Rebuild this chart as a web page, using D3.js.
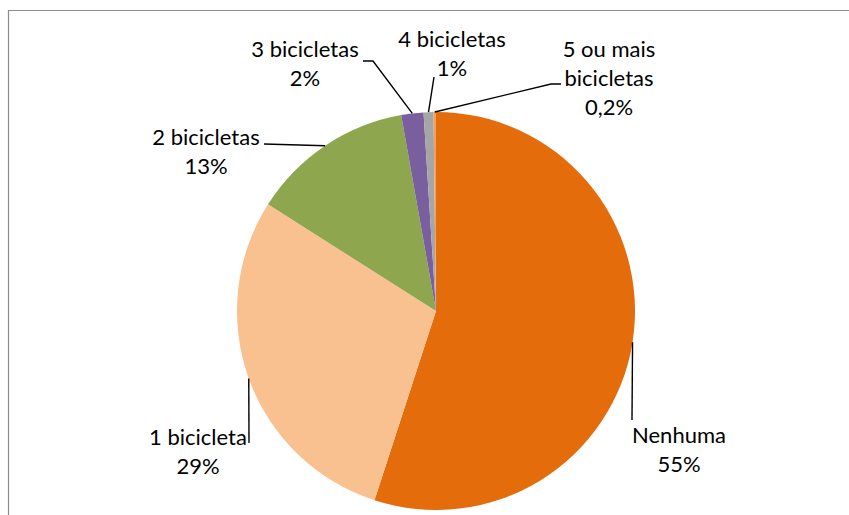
<!DOCTYPE html>
<html>
<head>
<meta charset="utf-8">
<script src="https://cdn.jsdelivr.net/npm/d3@7"></script>
<style>
  body { margin: 0; background: #fff; }
  text { font-family: Lato, "Open Sans", sans-serif; font-size: 22px; fill: #000; }
</style>
</head>
<body>
<script>
// data
var categories = ["Nenhuma", "1 bicicleta", "2 bicicletas", "3 bicicletas", "4 bicicletas", "5 ou mais bicicletas"];
var values = [55.0, 29.0, 13.2, 1.8, 0.8, 0.2];
var pctLabels = ["55%", "29%", "13%", "2%", "1%", "0,2%"];
var labelLines = [["Nenhuma"], ["1 bicicleta"], ["2 bicicletas"], ["3 bicicletas"], ["4 bicicletas"], ["5 ou mais", "bicicletas"]];
var colors = ["#e46c0a", "#f9c090", "#8ea64e", "#7a5f9e", "#a6a6a6", "#f0a060"];

var W = 849, H = 515;
var cx = 436, cy = 311, R = 199;

// label layout: text center x, first baseline y, leader polyline after the arc point
var layout = [
  {x: 679, y: 443, pts: [[632, 420]]},
  {x: 198, y: 445, pts: [[249, 443]]},
  {x: 206, y: 145, pts: [[264, 144]]},
  {x: 305, y: 57, pts: [[373, 61], [363, 61]]},
  {x: 452, y: 47, pts: [[434, 77]]},
  {x: 609, y: 57, pts: [[551, 84], [561, 84]]}
];

var svg = d3.select("body").append("svg")
  .attr("width", W).attr("height", H);

// frame
svg.append("path")
  .attr("d", "M8.5," + H + "V10.5H" + W)
  .attr("fill", "none")
  .attr("stroke", "#8c8c8c")
  .attr("stroke-width", 1.2);

var pie = d3.pie().sort(null).value(function(d) { return d; });
var arcs = pie(values);
var arc = d3.arc().innerRadius(0).outerRadius(R);

var g = svg.append("g").attr("transform", "translate(" + cx + "," + cy + ")");

g.selectAll(".slice")
  .data(arcs).enter()
  .append("path")
  .attr("class", "slice")
  .attr("d", arc)
  .attr("fill", function(d, i) { return colors[i]; });

// leaders
arcs.forEach(function(d, i) {
  var a = (d.startAngle + d.endAngle) / 2;
  var p0 = [cx + R * Math.sin(a), cy - R * Math.cos(a)];
  var pts = [p0].concat(layout[i].pts);
  svg.append("path")
    .attr("d", d3.line()(pts))
    .attr("fill", "none")
    .attr("stroke", "#000")
    .attr("stroke-width", 1.4);

  var t = svg.append("text")
    .attr("text-anchor", "middle")
    .attr("x", layout[i].x)
    .attr("y", layout[i].y);
  labelLines[i].concat([pctLabels[i]]).forEach(function(s, k) {
    t.append("tspan")
      .attr("x", layout[i].x)
      .attr("dy", k === 0 ? 0 : 29)
      .text(s);
  });
});
</script>
</body>
</html>
